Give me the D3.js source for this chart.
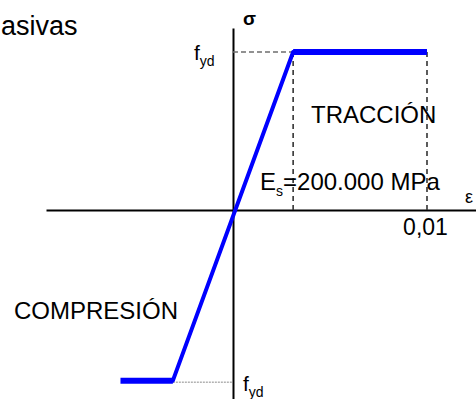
<!DOCTYPE html>
<html>
<head>
<meta charset="utf-8">
<script src="https://cdn.jsdelivr.net/npm/d3@7/dist/d3.min.js"></script>
<style>
  html, body { margin: 0; padding: 0; background: #fff; }
  svg { display: block; font-family: "Liberation Sans", Arial, sans-serif; }
</style>
</head>
<body>
<svg id="chart" width="476" height="399"></svg>
<script>
// Bilinear stress–strain diagram for reinforcing steel (design values)
const strain = [-0.0058, -0.0031, 0.0031, 0.01];   // ε
const stress = [-1.08, -1.08, 1.0, 1.0];            // σ in units of f_yd
const xTicks = [0.01];
const xTickLabels = ["0,01"];
const yieldLabel = "f";
const yieldSub = "yd";
const modulusText = "200.000 MPa";

const W = 476, H = 399;
const svg = d3.select("#chart");

// scales: origin at (233, 210)
const x = d3.scaleLinear().domain([-0.009639, 0.012526]).range([46, 476]);
const y = d3.scaleLinear().domain([-1.196, 1.152]).range([399, 28]);

const pts = strain.map((e, i) => ({ e, s: stress[i] }));
const yTop = pts[pts.length - 1];
const yieldT = pts[2], yieldC = pts[1];

// axes through the origin
const xAxis = d3.axisBottom(x).tickValues(xTicks).tickSize(0).tickPadding(9)
  .tickFormat((d, i) => xTickLabels[i]);
const gx = svg.append("g").attr("transform", `translate(0,${y(0)})`).call(xAxis);
gx.select(".domain").attr("stroke", "#000").attr("stroke-width", 2);
gx.selectAll("text").attr("font-size", 23).attr("fill", "#000")
  .attr("font-family", "Liberation Sans, Arial, sans-serif").attr("dx", -2);

const yAxis = d3.axisLeft(y).tickValues([]).tickSizeOuter(0);
const gy = svg.append("g").attr("transform", `translate(${x(0)},0)`).call(yAxis);
gy.select(".domain").attr("stroke", "#000").attr("stroke-width", 2);

// reference lines
svg.append("line")
  .attr("x1", x(0)).attr("x2", x(yieldT.e))
  .attr("y1", y(yieldT.s)).attr("y2", y(yieldT.s))
  .attr("stroke", "#6e6e6e").attr("stroke-width", 1.6).attr("stroke-dasharray", "5,3");

svg.selectAll("line.vguide").data([yieldT.e, yTop.e]).join("line")
  .attr("class", "vguide")
  .attr("x1", d => x(d)).attr("x2", d => x(d))
  .attr("y1", y(yieldT.s)).attr("y2", y(0))
  .attr("stroke", "#333").attr("stroke-width", 1.6).attr("stroke-dasharray", "5,4");

svg.append("line")
  .attr("x1", x(yieldC.e)).attr("x2", x(0))
  .attr("y1", y(yieldC.s) + 1.5).attr("y2", y(yieldC.s) + 1.5)
  .attr("stroke", "#8a8a8a").attr("stroke-width", 1).attr("stroke-dasharray", "2,1");

// constitutive law
const segs = d3.pairs(pts);
svg.selectAll("line.law").data(segs).join("line")
  .attr("class", "law")
  .attr("x1", d => x(d[0].e)).attr("y1", d => y(d[0].s))
  .attr("x2", d => x(d[1].e)).attr("y2", d => y(d[1].s))
  .attr("stroke", "#0000ff")
  .attr("stroke-width", d => d[0].s === d[1].s ? 6 : 4)
  .attr("stroke-linecap", d => d[0].s === d[1].s ? "butt" : "round");

// labels
const txt = (tx, ty, s, size, extra) => {
  const t = svg.append("text").attr("x", tx).attr("y", ty)
    .attr("font-size", size).attr("fill", "#000").text(s);
  if (extra) extra(t);
  return t;
};

txt(1, 35, "asivas", 27);
txt(243, 25, "σ", 19, t => t.attr("font-weight", "bold"));
txt(465, 203, "ε", 18);

const fyd = (tx, ty) => {
  const t = svg.append("text").attr("x", tx).attr("y", ty).attr("font-size", 21).attr("fill", "#000");
  t.append("tspan").text(yieldLabel);
  t.append("tspan").attr("font-size", 14).attr("dy", 6).text(yieldSub);
};
fyd(194, y(yieldT.s) + 7.5);
fyd(243, y(yieldC.s) + 10);

txt(311, 123, "TRACCIÓN", 24);
txt(14, 319, "COMPRESIÓN", 24);

const es = svg.append("text").attr("x", 260).attr("y", 190).attr("font-size", 24).attr("fill", "#000");
es.append("tspan").text("E");
es.append("tspan").attr("font-size", 14).attr("dy", 6).text("s");
es.append("tspan").attr("dy", -6).text("=" + modulusText);
</script>
</body>
</html>
